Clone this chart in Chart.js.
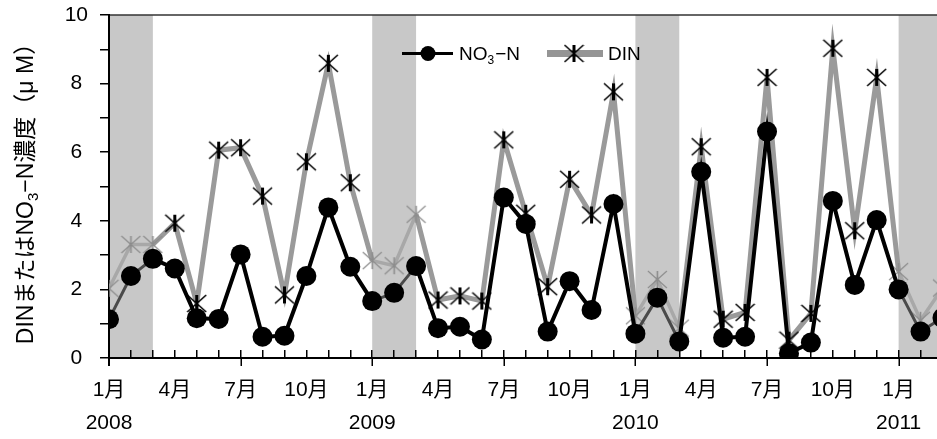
<!DOCTYPE html>
<html lang="ja">
<head>
<meta charset="UTF-8">
<title>DIN・NO3-N濃度</title>
<script src="https://cdn.jsdelivr.net/npm/chart.js@4"></script>
<style>
  html, body { margin: 0; padding: 0; background: #fff; }
  canvas { display: block; }
</style>
</head>
<body>
<canvas id="chart" width="937" height="439"></canvas>
<script>
// monthly samples, Jan 2008 - Mar 2011
const months = [
  '2008-01', '2008-02', '2008-03', '2008-04', '2008-05', '2008-06',
  '2008-07', '2008-08', '2008-09', '2008-10', '2008-11', '2008-12',
  '2009-01', '2009-02', '2009-03', '2009-04', '2009-05', '2009-06',
  '2009-07', '2009-08', '2009-09', '2009-10', '2009-11', '2009-12',
  '2010-01', '2010-02', '2010-03', '2010-04', '2010-05', '2010-06',
  '2010-07', '2010-08', '2010-09', '2010-10', '2010-11', '2010-12',
  '2011-01', '2011-02', '2011-03'
];
const no3 = [
  1.13, 2.39, 2.89, 2.61, 1.16, 1.14, 3.02, 0.62, 0.65, 2.39, 4.39, 2.66,
  1.66, 1.90, 2.68, 0.87, 0.91, 0.54, 4.68, 3.91, 0.77, 2.24, 1.40, 4.49,
  0.71, 1.76, 0.48, 5.43, 0.59, 0.62, 6.60, 0.14, 0.45, 4.58, 2.13, 4.02,
  2.00, 0.77, 1.17
];
const din = [
  2.03, 3.31, 3.31, 3.93, 1.59, 6.06, 6.13, 4.72, 1.84, 5.72, 8.59, 5.11,
  2.84, 2.69, 4.19, 1.69, 1.81, 1.66, 6.36, 4.22, 2.08, 5.21, 4.17, 7.76,
  1.23, 2.29, 0.87, 6.16, 1.13, 1.33, 8.18, 0.52, 1.30, 9.03, 3.71, 8.18,
  2.52, 1.10, 2.04
];
const monthTickLabels = ['1月', '4月', '7月', '10月'];
const yearLabels = ['2008', '2009', '2010', '2011'];

const FONT = '"Liberation Sans", "Noto Sans CJK JP", sans-serif';

// x position = months since Jan 2008
const xs = months.map(m => {
  const [y, mo] = m.split('-').map(Number);
  return (y - 2008) * 12 + (mo - 1);
});
const isWinter = i => xs[i] % 12 <= 2;          // Jan-Mar (shaded)
const winterSeg = ctx => xs[ctx.p0DataIndex] % 12 <= 1;

// Excel style "star" marker: X with a vertical bar
function makeStar(color, armW, barW) {
  const c = document.createElement('canvas');
  c.width = 21; c.height = 21;
  const g = c.getContext('2d');
  g.strokeStyle = color;
  g.lineWidth = armW;
  g.beginPath();
  g.moveTo(1, 2); g.lineTo(20, 19);
  g.moveTo(20, 2); g.lineTo(1, 19);
  g.stroke();
  g.lineWidth = barW;
  g.beginPath();
  g.moveTo(10.5, 2); g.lineTo(10.5, 19);
  g.stroke();
  return c;
}
const starBlack = makeStar('#000', 1.6, 3);
const starGrey = makeStar('#8c8c8c', 1.1, 1.6);

// keep the plot box fixed: no extra padding for overhanging tick labels
const noPad = s => { s.paddingTop = 0; s.paddingBottom = 0; s.paddingLeft = 0; s.paddingRight = 0; };

const bgPlugin = {
  id: 'bands',
  beforeDraw(chart) {
    const { ctx, chartArea: a, scales: { x } } = chart;
    ctx.save();
    ctx.fillStyle = '#fff';
    ctx.fillRect(0, 0, chart.width, chart.height);
    ctx.beginPath();
    ctx.rect(a.left, 0, a.right - a.left, chart.height);
    ctx.clip();
    ctx.fillStyle = '#c8c8c8';
    xs.forEach(v => {
      if (v % 12 === 0) {
        const x0 = x.getPixelForValue(v);
        const x1 = x.getPixelForValue(v + 2);
        ctx.fillRect(x0, a.top, x1 - x0, a.bottom - a.top);
      }
    });
    ctx.restore();
    // top frame line
    ctx.save();
    ctx.strokeStyle = '#333';
    ctx.lineWidth = 1.5;
    ctx.beginPath();
    ctx.moveTo(a.left, a.top);
    ctx.lineTo(a.right, a.top);
    ctx.stroke();
    // major ticks (Jan / Jul) crossing below the axis
    ctx.strokeStyle = '#000';
    ctx.lineWidth = 1.5;
    ctx.beginPath();
    for (let v = 0; v <= x.max; v += 6) {
      const px = Math.round(x.getPixelForValue(v)) + 0.25;
      ctx.moveTo(px, a.bottom);
      ctx.lineTo(px, a.bottom + 8);
    }
    ctx.stroke();
    ctx.lineWidth = 2;
    ctx.beginPath();
    ctx.moveTo(a.left, a.bottom);
    ctx.lineTo(a.left, a.bottom + 8);
    ctx.stroke();
    ctx.restore();
  }
};

const labelPlugin = {
  id: 'labels',
  afterDraw(chart) {
    const { ctx } = chart;
    ctx.save();
    ctx.fillStyle = '#000';

    // y axis title with subscript
    const parts = [['DINまたはNO', false], ['3', true], ['−N濃度（μ M）', false]];
    const big = '23px ' + FONT, small = '15px ' + FONT;
    let total = 0;
    parts.forEach(([t, sub]) => { ctx.font = sub ? small : big; total += ctx.measureText(t).width; });
    ctx.translate(25, 188);
    ctx.rotate(-Math.PI / 2);
    ctx.textBaseline = 'alphabetic';
    let px = -total / 2;
    parts.forEach(([t, sub]) => {
      ctx.font = sub ? small : big;
      ctx.fillText(t, px, sub ? 13 : 8);
      px += ctx.measureText(t).width;
    });
    ctx.setTransform(1, 0, 0, 1, 0, 0);

    // legend
    const ly = 53.5;
    ctx.strokeStyle = '#000';
    ctx.lineWidth = 3;
    ctx.beginPath();
    ctx.moveTo(402, ly); ctx.lineTo(453, ly);
    ctx.stroke();
    ctx.beginPath();
    ctx.arc(428, ly, 7.5, 0, Math.PI * 2);
    ctx.fill();
    ctx.textBaseline = 'alphabetic';
    ctx.font = '19px ' + FONT;
    ctx.fillText('NO', 459, 60);
    let lx = 459 + ctx.measureText('NO').width;
    ctx.font = '12px ' + FONT;
    ctx.fillText('3', lx, 64);
    lx += ctx.measureText('3').width + 1;
    ctx.font = '19px ' + FONT;
    ctx.fillText('−N', lx, 60);

    ctx.strokeStyle = '#959595';
    ctx.lineWidth = 7;
    ctx.beginPath();
    ctx.moveTo(547, ly); ctx.lineTo(603, ly);
    ctx.stroke();
    ctx.drawImage(starBlack, 574 - 10.5, ly - 10.5);
    ctx.fillText('DIN', 608, 60);
    ctx.restore();
  }
};

new Chart(document.getElementById('chart'), {
  type: 'line',
  data: {
    datasets: [
      {
        label: 'NO3-N',
        data: xs.map((x, i) => ({ x, y: no3[i] })),
        order: 1,
        borderColor: '#000',
        borderWidth: 4,
        pointRadius: 10,
        pointBackgroundColor: '#000',
        pointBorderWidth: 0,
        segment: {
          borderColor: ctx => winterSeg(ctx) ? '#4a4a4a' : undefined,
          borderWidth: ctx => winterSeg(ctx) ? 3 : undefined
        }
      },
      {
        label: 'DIN',
        data: xs.map((x, i) => ({ x, y: din[i] })),
        order: 2,
        borderColor: '#9a9a9a',
        borderWidth: 5,
        pointRadius: 10,
        pointStyle: ctx => isWinter(ctx.dataIndex) ? starGrey : starBlack,
        segment: {
          borderColor: ctx => winterSeg(ctx) ? '#a8a8a8' : undefined,
          borderWidth: ctx => winterSeg(ctx) ? 3.5 : undefined
        }
      }
    ]
  },
  options: {
    responsive: false,
    animation: false,
    events: [],
    layout: { autoPadding: false, padding: { top: 15, left: 0, right: 0, bottom: 0 } },
    plugins: { legend: { display: false }, tooltip: { enabled: false } },
    elements: { line: { tension: 0 } },
    scales: {
      x: {
        type: 'linear',
        bounds: 'data',
        min: 0,
        max: 37.75,
        afterFit: s => { s.height = 81; noPad(s); },
        grid: { drawOnChartArea: false, tickLength: -8, color: '#000', lineWidth: 1.5 },
        border: { color: '#000', width: 2 },
        ticks: {
          stepSize: 1,
          autoSkip: false,
          includeBounds: false,
          maxRotation: 0,
          padding: 24,
          color: '#000',
          font: { family: FONT, size: 21, lineHeight: 1.55 },
          callback: v => {
            if (v % 3 !== 0) return '';
            const m = v % 12;
            const lbl = monthTickLabels[m / 3];
            return m === 0 ? [lbl, yearLabels[v / 12]] : lbl;
          }
        }
      },
      y: {
        min: 0,
        max: 10,
        afterFit: s => { s.width = 109; noPad(s); },
        grid: { drawOnChartArea: false, tickLength: 9, color: '#000', lineWidth: 1.5 },
        border: { color: '#000', width: 2 },
        ticks: {
          stepSize: 1,
          autoSkip: false,
          crossAlign: 'center',
          padding: 12,
          color: '#000',
          font: { family: FONT, size: 21 },
          callback: v => v % 2 === 0 ? String(v) : ''
        }
      }
    }
  },
  plugins: [bgPlugin, labelPlugin]
});
</script>
</body>
</html>
